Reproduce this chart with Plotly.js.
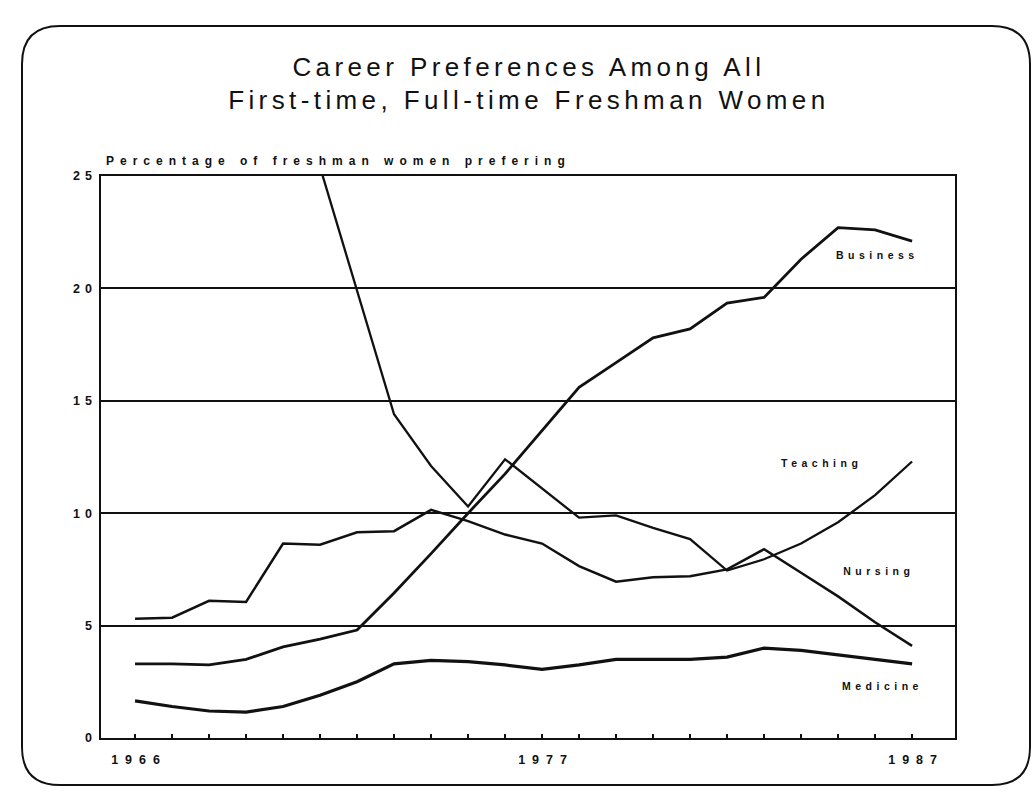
<!DOCTYPE html>
<html>
<head>
<meta charset="utf-8">
<script src="https://cdn.plot.ly/plotly-3.0.1.min.js"></script>
<style>
  html, body { margin: 0; padding: 0; background: #fff; }
  #chart { width: 1035px; height: 805px; }
  .gtitle { letter-spacing: 4.4px; }
  .xtick text { letter-spacing: 7px; }
  .ytick text { letter-spacing: 5px; }
  .annotation text { letter-spacing: 4.5px; }
  .annotation[data-index="0"] text { letter-spacing: 6px; }
</style>
</head>
<body>
<div id="chart"></div>
<script>
// ---- data (percent of freshman women) ----
const years = [1966, 1967, 1968, 1969, 1970, 1971, 1972, 1973, 1974, 1975, 1976,
               1977, 1978, 1979, 1980, 1981, 1982, 1983, 1984, 1985, 1986, 1987];

// values above 25 before 1971 run off the top of the chart and cannot be read
const teaching = [null, null, null, null, null, 25.4, 19.9, 14.4, 12.1, 10.3, 12.4,
                  11.1, 9.8, 9.9, 9.35, 8.85, 7.45, 7.95, 8.65, 9.6, 10.8, 12.3];
const nursing  = [5.3, 5.35, 6.1, 6.05, 8.65, 8.6, 9.15, 9.2, 10.15, 9.65, 9.05,
                  8.65, 7.65, 6.95, 7.15, 7.2, 7.5, 8.4, 7.35, 6.3, 5.15, 4.1];
const business = [3.3, 3.3, 3.25, 3.5, 4.05, 4.4, 4.8, 6.45, 8.2, 10.0, 11.75,
                  13.65, 15.6, 16.7, 17.8, 18.2, 19.35, 19.6, 21.3, 22.7, 22.6, 22.1];
const medicine = [1.65, 1.4, 1.2, 1.15, 1.4, 1.9, 2.5, 3.3, 3.45, 3.4, 3.25,
                  3.05, 3.25, 3.5, 3.5, 3.5, 3.6, 4.0, 3.9, 3.7, 3.5, 3.3];

const seriesNames = ['Business', 'Teaching', 'Nursing', 'Medicine'];
// label anchor points (year, percent) as placed in the reference
const labelYears  = [1986.0, 1984.5, 1986.05, 1986.15];
const labelValues = [21.5, 12.25, 7.45, 2.3];

const xTickLabels = ['1966', '1977', '1987'];
const yTickValues = [0, 5, 10, 15, 20, 25];

const titleText = 'Career Preferences Among All<br>First-time, Full-time Freshman Women';
const yTitleText = 'Percentage of freshman women prefering';

// ---- layout ----
const W = 1035, H = 805;
const M = { l: 101, r: 80, t: 176, b: 67 };
const plotW = W - M.l - M.r, plotH = H - M.t - M.b;
function px(x) { return (x - M.l) / plotW; }
function py(y) { return (H - M.b - y) / plotH; }

const ink = '#111111';
const font = 'Liberation Sans, Arial, sans-serif';

const seriesData = [business, teaching, nursing, medicine];
const widths = [2.8, 2.3, 2.5, 3.2];
const traces = seriesData.map((vals, i) => ({
  type: 'scatter', mode: 'lines', x: years, y: vals, name: seriesNames[i],
  line: { color: ink, width: widths[i] }, connectgaps: false, hoverinfo: 'x+y+name'
}));

const tickText = years.map(y => xTickLabels.includes(String(y)) ? String(y) : '');

// rounded slide frame (pixel coordinates converted to paper)
const fr = { l: 22, r: 1030, t: 26, b: 785, rad: 38 };
const P = (x, y) => px(x) + ',' + py(y);
const framePath =
  'M' + P(fr.l + fr.rad, fr.t) +
  ' L' + P(fr.r - fr.rad, fr.t) +
  ' Q' + P(fr.r, fr.t) + ' ' + P(fr.r, fr.t + fr.rad) +
  ' L' + P(fr.r, fr.b - fr.rad) +
  ' Q' + P(fr.r, fr.b) + ' ' + P(fr.r - fr.rad, fr.b) +
  ' L' + P(fr.l + fr.rad, fr.b) +
  ' Q' + P(fr.l, fr.b) + ' ' + P(fr.l, fr.b - fr.rad) +
  ' L' + P(fr.l, fr.t + fr.rad) +
  ' Q' + P(fr.l, fr.t) + ' ' + P(fr.l + fr.rad, fr.t) + ' Z';

const annotations = [{
  // centred on the span the axis caption covers in the reference (x ≈ 107…570 px)
  xref: 'paper', yref: 'paper', x: px(338), y: 1, xanchor: 'center', yanchor: 'bottom',
  yshift: 6, showarrow: false, text: yTitleText,
  font: { family: font, size: 12, color: ink, weight: 700 }
}].concat(seriesNames.map((n, i) => ({
  xref: 'x', yref: 'y', x: labelYears[i], y: labelValues[i],
  xanchor: 'center', yanchor: 'middle', xshift: 2, showarrow: false, text: n,
  font: { family: font, size: 10.5, color: ink, weight: 700 }
})));

const layout = {
  width: W, height: H,
  margin: M,
  paper_bgcolor: '#fff', plot_bgcolor: '#fff',
  showlegend: false,
  title: {
    text: titleText, x: 0.511, xanchor: 'center', y: 0.906, yanchor: 'top',
    font: { family: font, size: 26, color: ink }
  },
  xaxis: {
    range: [1965.08, 1988.16],
    tickmode: 'array', tickvals: years, ticktext: tickText,
    ticks: 'inside', ticklen: 4, tickwidth: 1.2, tickcolor: ink,
    ticklabelstandoff: 9, ticklabelshift: 4,
    tickfont: { family: font, size: 12.5, color: ink, weight: 700 },
    showgrid: false, zeroline: false,
    showline: true, mirror: true, linecolor: ink, linewidth: 1.6
  },
  yaxis: {
    range: [0, 25],
    tickmode: 'array', tickvals: yTickValues,
    ticks: '', ticklabelstandoff: 0,
    tickfont: { family: font, size: 12.5, color: ink, weight: 700 },
    showgrid: true, gridcolor: ink, gridwidth: 2,
    zeroline: false,
    showline: true, mirror: true, linecolor: ink, linewidth: 1.6
  },
  shapes: [{
    type: 'path', xref: 'paper', yref: 'paper', path: framePath,
    line: { color: ink, width: 2 }, fillcolor: 'rgba(0,0,0,0)', layer: 'below'
  }],
  annotations: annotations
};

Plotly.newPlot('chart', traces, layout, { displayModeBar: false, staticPlot: true });
</script>
</body>
</html>
